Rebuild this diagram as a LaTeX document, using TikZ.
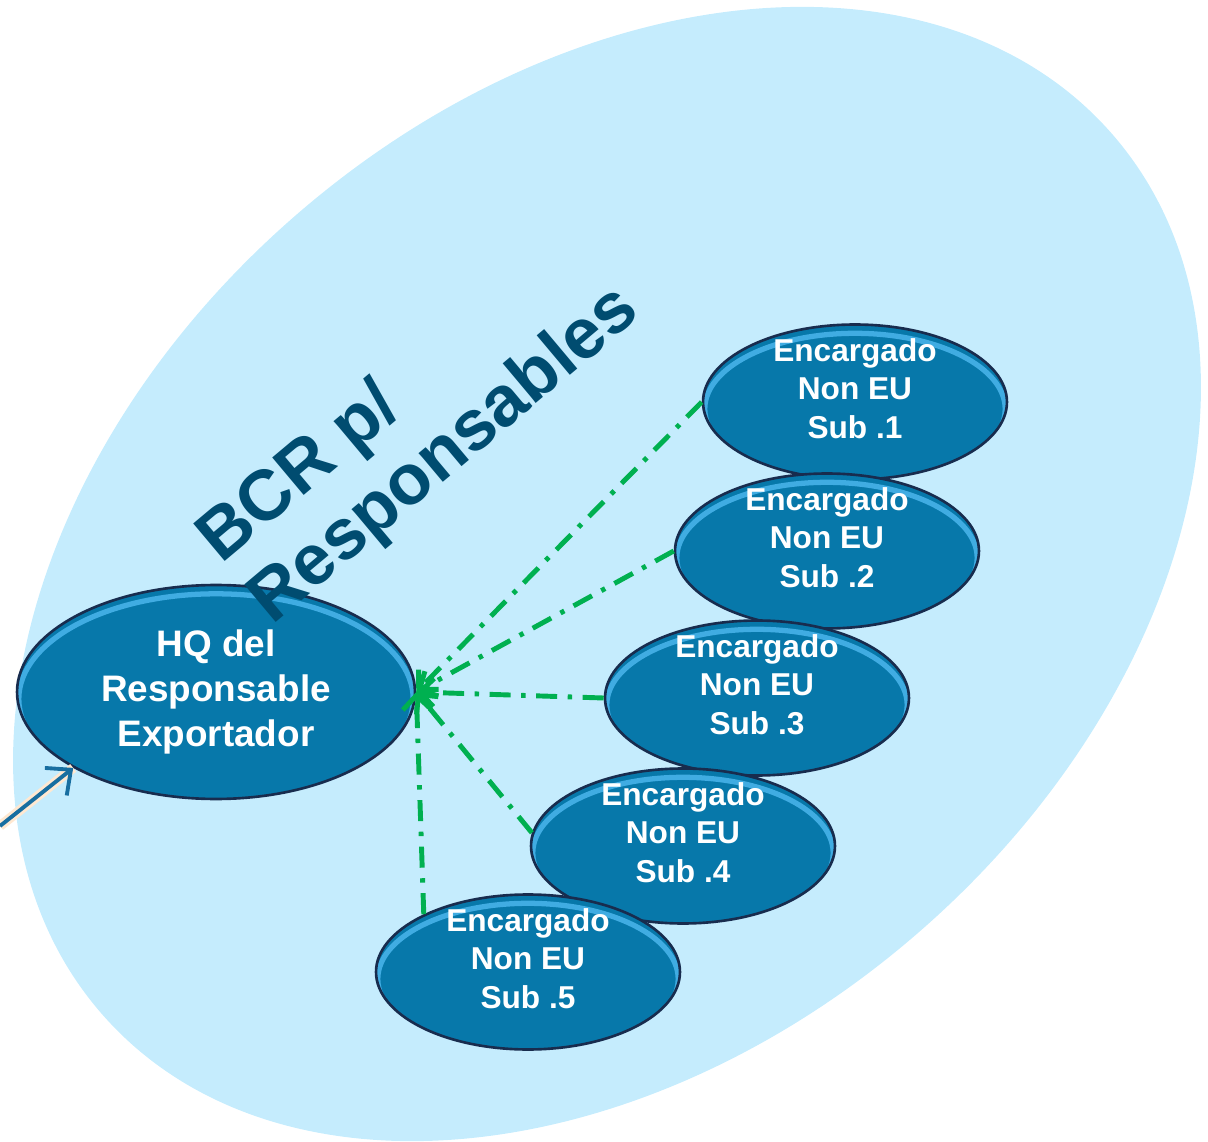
\documentclass[tikz,border=0pt]{standalone}
\usepackage{fontspec}
\setmainfont{Liberation Sans}
\usepackage{tikz}
\usetikzlibrary{arrows.meta,shapes.geometric,calc}

\definecolor{bgblue}{RGB}{197,236,253}
\definecolor{bubblefill}{RGB}{7,120,170}
\definecolor{bubblerim}{RGB}{24,44,78}
\definecolor{bubblehi}{RGB}{64,172,226}
\definecolor{titleblue}{RGB}{0,76,112}
\definecolor{linkgreen}{RGB}{0,176,80}
\definecolor{inblue}{RGB}{24,110,160}

\begin{document}
\begin{tikzpicture}[x=0.02cm,y=-0.02cm,
    bubble/.style={ellipse, fill=bubblefill, draw=bubblerim, line width=1.5pt, inner sep=0pt,
      path picture={\draw[bubblehi, line width=3pt]
        let \p1=(path picture bounding box.south west), \p2=(path picture bounding box.north east) in
        ($(\p1)!0.5!(\p2)+(0,-4pt)$) ellipse [x radius={0.5*(\x2-\x1)-1pt}, y radius={0.5*(\y2-\y1)-1pt}];}},
    hqbubble/.style={bubble, minimum width=7.96cm, minimum height=4.28cm, text=white, align=center,
      font=\fontsize{21pt}{25.6pt}\selectfont\bfseries},
    subbubble/.style={bubble, minimum width=6.08cm, minimum height=3.1cm},
    subtext/.style={text=white, align=center, yshift=0.27cm,
      font=\fontsize{18pt}{21.9pt}\selectfont\bfseries},
    link/.style={linkgreen, line width=2.8pt, dash pattern=on 12pt off 6pt on 2.5pt off 6pt,
      -{Straight Barb[length=8pt,width=16pt]}},
    feed/.style={inblue, line width=2.2pt, -{Straight Barb[length=11pt,width=20pt]},
      preaction={draw=orange!18, line width=5.5pt, -}}]
        \useasboundingbox (0,0) rectangle (1208,1142);
        % background area
        \fill [bgblue, rotate around={41:(607,574)}] (607,574) ellipse [x radius=13.4cm, y radius=9.5cm];
        % headquarters
        \node [hqbubble] (hq) at (216,692) {HQ del\\Responsable\\Exportador};
        % title over the area
        \node [rotate=40, align=left, text=titleblue, font=\fontsize{40.5pt}{45pt}\selectfont\bfseries] (ttl) at (420,426) {BCR p/\\Responsables};
        % subs
        \node [subbubble, label={[subtext]center:Encargado\\Non EU\\Sub .1}] (s1) at (855,402) {};
        \node [subbubble, label={[subtext]center:Encargado\\Non EU\\Sub .2}] (s2) at (827,551) {};
        \node [subbubble, label={[subtext]center:Encargado\\Non EU\\Sub .3}] (s3) at (757,698) {};
        \node [subbubble, label={[subtext]center:Encargado\\Non EU\\Sub .4}] (s4) at (683,846) {};
        \node [subbubble, label={[subtext]center:Encargado\\Non EU\\Sub .5}] (s5) at (528,972) {};
        % links to hq
        \draw [link] (s1.west) -- (hq.east);
        \draw [link] (s2.west) -- (hq.east);
        \draw [link] (s3.west) -- (hq.east);
        \draw [link] (s4.175) -- (hq.east);
        \draw [link] (s5.151) -- (hq.east);
        % incoming
        \coordinate (src) at (0,826);
        \draw [feed] (src) -- (hq.208);
\end{tikzpicture}
\end{document}
